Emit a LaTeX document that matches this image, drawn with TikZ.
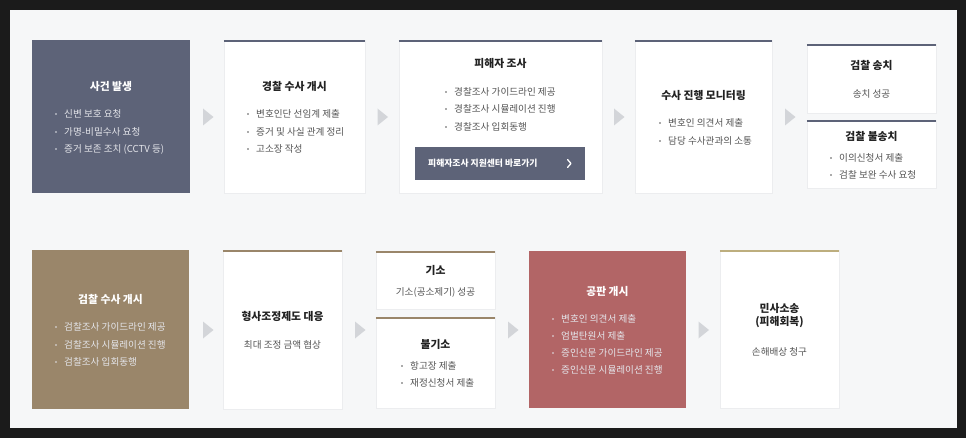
\documentclass[tikz,border=0pt]{standalone}
\usepackage{fontspec}
\setmainfont{Noto Sans CJK KR}
\definecolor{frame}{HTML}{1B1B1B}
\definecolor{bg}{HTML}{F6F7F8}
\definecolor{slate}{HTML}{5D6378}
\definecolor{brownc}{HTML}{9A866A}
\definecolor{rose}{HTML}{B26566}
\definecolor{gold}{HTML}{BDAE7E}
\definecolor{boxedge}{HTML}{ECEDEF}
\definecolor{ttl}{HTML}{222222}
\definecolor{txt}{HTML}{555555}
\definecolor{dot}{HTML}{888888}
\definecolor{lighttxt}{HTML}{E4E5EA}
\definecolor{arr}{HTML}{D3D5D9}
\newcommand\cardbox[6]{\node[#6, inner sep=0pt, minimum width={#4pt-#2pt}, minimum height={#5pt-#3pt}] (#1) at ({(#2+#4)/2},{(#3+#5)/2}) {};}
\newcommand\bulitem[5]{\fill[#5] (#2-8,#3) circle (0.85pt);\node[anchor=west, inner sep=0pt, body, text=#5] (#1) at (#2,#3) {#4};}
\tikzset{
  card/.style={fill=white, draw=boxedge, line width=0.5pt},
  dark/.style={fill=#1, draw=none},
  ttlfont/.style={font=\fontsize{10.8}{13}\selectfont\bfseries, text=ttl, inner sep=0pt},
  body/.style={font=\fontsize{9.6}{12}\selectfont, inner sep=0pt},
  topline/.style={line width=2.4pt, draw=#1},
  chev/.style={fill=arr, draw=none},
}
\newcommand\tline[2]{\draw[topline=#2] ([yshift=-1.2pt]#1.north west) -- ([yshift=-1.2pt]#1.north east);}
\newcommand\arrowtri[2]{\fill[chev] (#1,#2-8.5) -- (#1+10.5,#2) -- (#1,#2+8.5) -- cycle;}
\begin{document}
\begin{tikzpicture}[x=1pt,y=-1pt]
\useasboundingbox (0,0) rectangle (966,438);
\fill[frame] (0,0) rectangle (966,438);
\fill[bg] (10,10) rectangle (956.5,428);
% ---------- top row ----------
\cardbox{b1}{32}{40}{190}{193}{dark=slate}
\node[ttlfont, text=white] (b1t) at (111,86) {사건 발생};
\bulitem{b1a}{64}{114}{신변 보호 요청}{lighttxt}
\bulitem{b1b}{64}{132}{가명-비밀수사 요청}{lighttxt}
\bulitem{b1c}{64}{149}{증거 보존 조치 (CCTV 등)}{lighttxt}

\cardbox{b2}{224}{40}{365}{193}{card}
\tline{b2}{slate}
\node[ttlfont] (b2t) at (294.5,86) {경찰 수사 개시};
\bulitem{b2a}{256}{114}{변호인단 선임계 제출}{txt}
\bulitem{b2b}{256}{132}{증거 및 사실 관계 정리}{txt}
\bulitem{b2c}{256}{149}{고소장 작성}{txt}

\cardbox{b3}{399}{40}{602}{193}{card}
\tline{b3}{slate}
\node[ttlfont] (b3t) at (500.5,63) {피해자 조사};
\bulitem{b3a}{454}{92}{경찰조사 가이드라인 제공}{txt}
\bulitem{b3b}{454}{109}{경찰조사 시뮬레이션 진행}{txt}
\bulitem{b3c}{454}{127}{경찰조사 입회동행}{txt}
\cardbox{btn}{415}{147}{585}{180}{dark=slate}
\node[anchor=west, inner sep=0pt, text=white, font=\fontsize{8.8}{11}\selectfont\bfseries] (btnt) at (428,163.5) {피해자조사 지원센터 바로가기};
\draw[white, line width=1.3pt, line cap=round, line join=round] (567.5,159.5) -- (571,163.5) -- (567.5,167.5);

\cardbox{b4}{635}{40}{772}{193}{card}
\tline{b4}{slate}
\node[ttlfont] (b4t) at (703.5,95) {수사 진행 모니터링};
\bulitem{b4a}{668}{123}{변호인 의견서 제출}{txt}
\bulitem{b4b}{668}{141}{담당 수사관과의 소통}{txt}

\cardbox{b5}{807}{44}{936}{113}{card}
\tline{b5}{slate}
\node[ttlfont] (b5t) at (871.5,65) {검찰 송치};
\node[body, text=txt] (b5s) at (871.5,94) {송치 성공};

\cardbox{b6}{807}{120}{936}{188}{card}
\tline{b6}{slate}
\node[ttlfont] (b6t) at (871.5,136) {검찰 불송치};
\bulitem{b6a}{839}{158}{이의신청서 제출}{txt}
\bulitem{b6b}{839}{175}{검찰 보완 수사 요청}{txt}

\arrowtri{203}{117}
\arrowtri{377.5}{117}
\arrowtri{614}{117}
\arrowtri{785}{117}

% ---------- bottom row ----------
\cardbox{c1}{32}{250}{189}{409}{dark=brownc}
\node[ttlfont, text=white] (c1t) at (110.5,299) {검찰 수사 개시};
\bulitem{c1a}{64}{327}{검찰조사 가이드라인 제공}{lighttxt}
\bulitem{c1b}{64}{345}{검찰조사 시뮬레이션 진행}{lighttxt}
\bulitem{c1c}{64}{362}{검찰조사 입회동행}{lighttxt}

\cardbox{c2}{223}{250}{342}{409}{card}
\tline{c2}{brownc}
\node[ttlfont] (c2t) at (282.5,316) {형사조정제도 대응};
\node[body, text=txt] (c2s) at (282.5,345) {최대 조정 금액 협상};

\cardbox{c3}{376}{251}{495}{309}{card}
\tline{c3}{brownc}
\node[ttlfont] (c3t) at (435.5,270) {기소};
\node[body, text=txt] (c3s) at (435.5,292) {기소(공소제기) 성공};

\cardbox{c4}{376}{317}{495}{408}{card}
\tline{c4}{brownc}
\node[ttlfont] (c4t) at (435.5,344) {불기소};
\bulitem{c4a}{410}{366}{항고장 제출}{txt}
\bulitem{c4b}{410}{383}{재정신청서 제출}{txt}

\cardbox{c5}{529}{251}{686}{408}{dark=rose}
\node[ttlfont, text=white] (c5t) at (607.5,291) {공판 개시};
\bulitem{c5a}{561}{319}{변호인 의견서 제출}{lighttxt}
\bulitem{c5b}{561}{336}{엄벌탄원서 제출}{lighttxt}
\bulitem{c5c}{561}{353}{증인신문 가이드라인 제공}{lighttxt}
\bulitem{c5d}{561}{370}{증인신문 시뮬레이션 진행}{lighttxt}

\cardbox{c6}{720}{250}{839}{408}{card}
\tline{c6}{gold}
\node[ttlfont, align=center] (c6t) at (779.5,316) {민사소송\\(피해회복)};
\node[body, text=txt] (c6s) at (779.5,352) {손해배상 청구};

\arrowtri{203}{330}
\arrowtri{355}{330}
\arrowtri{508}{330}
\arrowtri{698.5}{330}
\end{tikzpicture}
\end{document}
